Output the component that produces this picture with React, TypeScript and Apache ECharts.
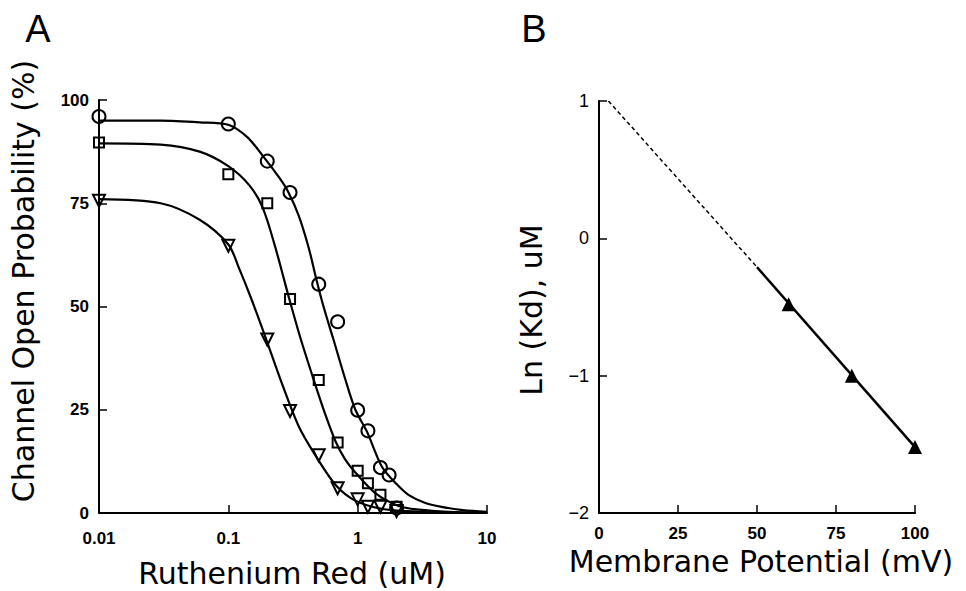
import React, { useEffect, useRef } from 'react';
import * as echarts from 'echarts';

// ---------- Panel A: Ruthenium Red dose-response ----------
const xTickLabelsA = ['0.01', '0.1', '1', '10'];
const yTickLabelsA = ['0', '25', '50', '75', '100'];

// measured points
const circleX = [0.01, 0.1, 0.2, 0.3, 0.5, 0.7, 1.0, 1.2, 1.5, 1.75, 2];
const circleY = [96, 94.2, 85.2, 77.6, 55.4, 46.3, 24.9, 19.9, 11, 9.2, 1.2];
const squareX = [0.01, 0.1, 0.2, 0.3, 0.5, 0.7, 1.0, 1.2, 1.5, 2];
const squareY = [89.7, 82, 75, 51.8, 32.2, 17.1, 10.2, 7.2, 4.4, 1.5];
const triX = [0.01, 0.1, 0.2, 0.3, 0.5, 0.7, 1.0, 1.2, 1.5, 2];
const triY = [75.6, 64.7, 42, 24.7, 14, 6, 3.3, 1.5, 1.5, 0.5];

// fitted curves
const circleFitX = [0.01, 0.03, 0.06, 0.1, 0.14, 0.19, 0.25, 0.29, 0.35, 0.42, 0.48, 0.55, 0.65, 0.8, 0.96, 1.18, 1.54, 2, 2.47, 3.3, 4.45, 6.5, 10];
const circleFitY = [95, 95, 94.6, 94, 91, 86, 81, 77.8, 72, 64, 56.5, 49.5, 42, 32.5, 25, 19.7, 11.2, 7, 4.4, 2.5, 1.5, 0.7, 0.3];
const squareFitX = [0.01, 0.03, 0.06, 0.1, 0.145, 0.184, 0.23, 0.295, 0.36, 0.46, 0.56, 0.675, 0.8, 0.96, 1.37, 2.07, 3, 5, 10];
const squareFitY = [89.5, 89.2, 87.5, 84, 79.4, 74, 64.5, 52, 42.5, 32, 24, 17.3, 13, 9.8, 4.8, 1.7, 0.8, 0.3, 0.1];
const triFitX = [0.01, 0.03, 0.06, 0.1, 0.122, 0.15, 0.195, 0.254, 0.35, 0.47, 0.675, 0.96, 1.54, 3, 10];
const triFitY = [76, 75, 71, 65, 59, 52, 42.3, 32.2, 21, 14, 6.8, 3, 1, 0.3, 0];

// ---------- Panel B: Ln(Kd) vs membrane potential ----------
const xTickLabelsB = ['0', '25', '50', '75', '100'];
const yTickLabelsB = ['\u22122', '\u22121', '0', '1'];
const potentialMV = [60, 80, 100];
const lnKd = [-0.48, -1.0, -1.52];
const fitSolidX = [50, 100];
const fitSolidY = [-0.21, -1.52];
const fitDashX = [3, 50];
const fitDashY = [1.0, -0.21];

const zip = (xs: number[], ys: number[]) => xs.map((x, i) => [x, ys[i]]);

export default function App() {
  const ref = useRef<HTMLDivElement>(null);
  useEffect(() => {
    const chart = echarts.init(ref.current!, null, { renderer: 'svg' });
    const black = '#000';
    const axisLine = { show: true, onZero: false, lineStyle: { color: black, width: 2 } };
    const axisTick = { show: true, inside: true, length: 8, lineStyle: { color: black, width: 1.5 } };
    const boldLabel = { fontFamily: 'Liberation Sans', fontWeight: 'bold', fontSize: 17, color: black };
    const titleFont = { fontFamily: 'DejaVu Sans', fontSize: 30, fill: black };

    chart.setOption({
      animation: false,
      backgroundColor: '#fff',
      grid: [
        { left: 99, top: 100, width: 388, height: 413 },
        { left: 599, top: 101, width: 316, height: 412 },
      ],
      xAxis: [
        {
          gridIndex: 0, type: 'log', logBase: 10, min: 0.01, max: 10,
          axisLine, axisTick, splitLine: { show: false }, minorTick: { show: false },
          axisLabel: {
            ...boldLabel, margin: 17,
            formatter: (v: number) => xTickLabelsA[Math.round(Math.log10(v)) + 2],
          },
        },
        {
          gridIndex: 1, type: 'value', min: 0, max: 100, interval: 25,
          axisLine, axisTick, splitLine: { show: false },
          axisLabel: {
            ...boldLabel, margin: 12,
            formatter: (v: number) => xTickLabelsB[Math.round(v / 25)],
          },
        },
      ],
      yAxis: [
        {
          gridIndex: 0, type: 'value', min: 0, max: 100, interval: 25,
          axisLine, axisTick, splitLine: { show: false },
          axisLabel: {
            ...boldLabel, margin: 10,
            formatter: (v: number) => yTickLabelsA[Math.round(v / 25)],
          },
        },
        {
          gridIndex: 1, type: 'value', min: -2, max: 1, interval: 1,
          axisLine, axisTick, splitLine: { show: false },
          axisLabel: {
            fontFamily: 'Liberation Sans', fontSize: 18, color: black, margin: 10,
            formatter: (v: number) => yTickLabelsB[Math.round(v) + 2],
          },
        },
      ],
      series: [
        // Panel A fitted curves
        ...[zip(circleFitX, circleFitY), zip(squareFitX, squareFitY), zip(triFitX, triFitY)].map((d) => ({
          type: 'line', xAxisIndex: 0, yAxisIndex: 0, data: d,
          showSymbol: false, symbol: 'none', smooth: 0.3,
          lineStyle: { color: black, width: 2.2 }, z: 3,
        })),
        // Panel A markers
        {
          type: 'scatter', xAxisIndex: 0, yAxisIndex: 0, data: zip(circleX, circleY),
          symbol: 'circle', symbolSize: 13, clip: false,
          itemStyle: { color: 'transparent', borderColor: black, borderWidth: 2, opacity: 1 }, z: 4,
        },
        {
          type: 'scatter', xAxisIndex: 0, yAxisIndex: 0, data: zip(squareX, squareY),
          symbol: 'rect', symbolSize: 10, clip: false,
          itemStyle: { color: 'transparent', borderColor: black, borderWidth: 2, opacity: 1 }, z: 4,
        },
        {
          type: 'scatter', xAxisIndex: 0, yAxisIndex: 0, data: zip(triX, triY),
          symbol: 'triangle', symbolSize: 12, symbolRotate: 180, clip: false,
          itemStyle: { color: 'transparent', borderColor: black, borderWidth: 2, opacity: 1 }, z: 4,
        },
        // Panel B lines
        {
          type: 'line', xAxisIndex: 1, yAxisIndex: 1, data: zip(fitDashX, fitDashY),
          showSymbol: false, symbol: 'none',
          lineStyle: { color: black, width: 1.5, type: [4, 3] }, z: 3,
        },
        {
          type: 'line', xAxisIndex: 1, yAxisIndex: 1, data: zip(fitSolidX, fitSolidY),
          showSymbol: false, symbol: 'none',
          lineStyle: { color: black, width: 2.5 }, z: 3,
        },
        {
          type: 'scatter', xAxisIndex: 1, yAxisIndex: 1, data: zip(potentialMV, lnKd),
          symbol: 'triangle', symbolSize: 14, clip: false,
          itemStyle: { color: black, opacity: 1 }, z: 4,
        },
      ],
      graphic: [
        { type: 'text', x: 38, y: 29, style: { text: 'A', fontFamily: 'Liberation Sans', fontSize: 38, fill: black, align: 'center', verticalAlign: 'middle' } },
        { type: 'text', x: 534, y: 29, style: { text: 'B', fontFamily: 'Liberation Sans', fontSize: 38, fill: black, align: 'center', verticalAlign: 'middle' } },
        { type: 'text', x: 292, y: 573, style: { text: 'Ruthenium Red (uM)', ...titleFont, align: 'center', verticalAlign: 'middle' } },
        { type: 'text', x: 761, y: 561, style: { text: 'Membrane Potential (mV)', ...titleFont, align: 'center', verticalAlign: 'middle' } },
        { type: 'text', x: 23, y: 281, rotation: Math.PI / 2, style: { text: 'Channel Open Probability (%)', ...titleFont, align: 'center', verticalAlign: 'middle' } },
        { type: 'text', x: 531, y: 310, rotation: Math.PI / 2, style: { text: 'Ln (Kd), uM', ...titleFont, align: 'center', verticalAlign: 'middle' } },
      ],
    });
    return () => chart.dispose();
  }, []);
  return <div ref={ref} style={{ position: 'absolute', left: 0, top: 0, width: 966, height: 591 }} />;
}
